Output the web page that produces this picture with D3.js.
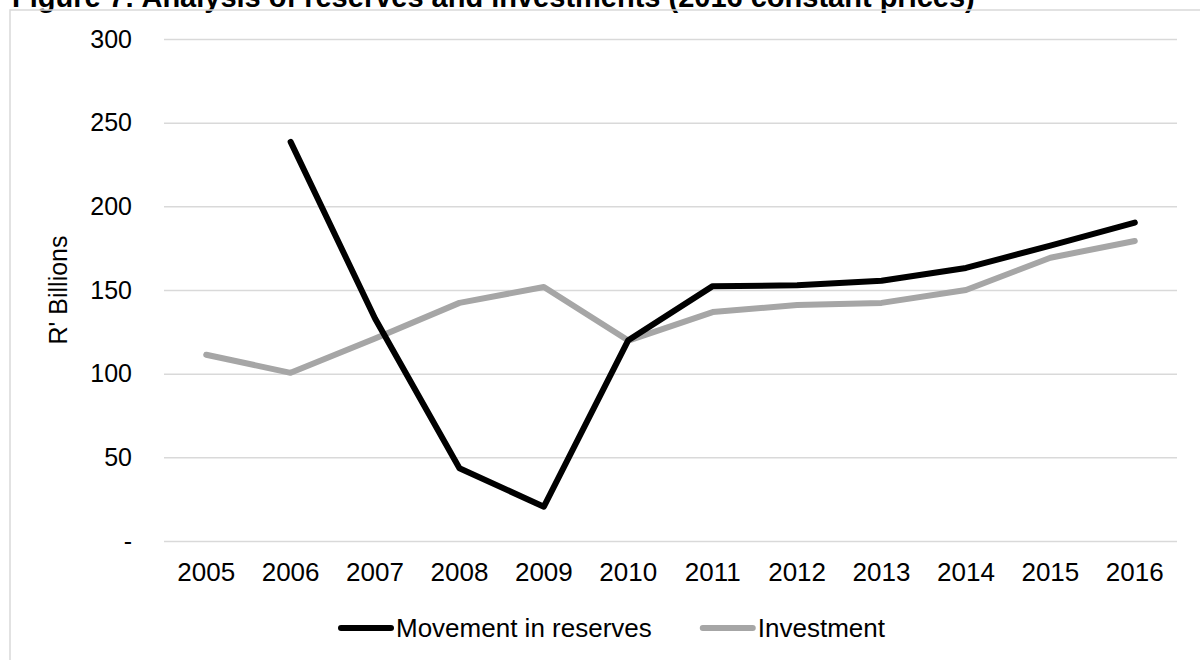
<!DOCTYPE html>
<html>
<head>
<meta charset="utf-8">
<script src="https://cdn.jsdelivr.net/npm/d3@7"></script>
<style>
  body { margin: 0; background: #fff; }
  svg { display: block; font-family: "Liberation Sans", Arial, sans-serif; }
  .grid line { stroke: #d9d9d9; stroke-width: 1.5; }
  .grid path { display: none; }
  .axis path, .axis line { display: none; }
  .axis text { fill: #000; }
  .yaxis text { font-size: 25px; }
  .xaxis text { font-size: 26px; }
</style>
</head>
<body>
<svg id="chart" width="1200" height="660"></svg>
<script>
const width = 1200;
const height = 660;

// data
const years = ["2005", "2006", "2007", "2008", "2009", "2010", "2011", "2012", "2013", "2014", "2015", "2016"];
const reserves = [null, 238.5, 133, 43.5, 20.5, 120, 152.3, 152.8, 155.5, 163.2, 176.5, 190.3];
const investment = [111.3, 100.5, 121, 142.3, 151.8, 119.8, 136.8, 141, 142.3, 150, 169.3, 179.3];
const yTicks = [0, 50, 100, 150, 200, 250, 300];
const seriesNames = ["Movement in reserves", "Investment"];

const svg = d3.select("#chart");

const plot = { left: 164, right: 1177, top: 39, bottom: 541 };

const x = d3.scaleBand()
  .domain(years)
  .range([plot.left, plot.right]);

const y = d3.scaleLinear()
  .domain([0, 300])
  .range([plot.bottom, plot.top]);

// title (clipped at the top of the picture)
svg.append("text")
  .attr("x", 12)
  .attr("y", 7)
  .style("font-size", "29px")
  .style("font-weight", "bold")
  .text("Figure 7: Analysis of reserves and investments (2016 constant prices)");

// chart frame
svg.append("rect")
  .attr("x", 10)
  .attr("y", 10)
  .attr("width", 1300)
  .attr("height", 800)
  .attr("fill", "none")
  .attr("stroke", "#d9d9d9")
  .attr("stroke-width", 1.5);

// gridlines
svg.append("g")
  .attr("class", "grid")
  .attr("transform", `translate(${plot.left},0)`)
  .call(d3.axisLeft(y).tickValues(yTicks).tickSize(-(plot.right - plot.left)).tickFormat(""));

// Y axis labels
svg.append("g")
  .attr("class", "axis yaxis")
  .attr("transform", `translate(${plot.left - 32},0)`)
  .call(d3.axisLeft(y).tickValues(yTicks).tickSize(0).tickPadding(0)
    .tickFormat(d => d === 0 ? "-" : d));

// X axis labels
svg.append("g")
  .attr("class", "axis xaxis")
  .attr("transform", `translate(0,${plot.bottom})`)
  .call(d3.axisBottom(x).tickSize(0).tickPadding(22));

// Y axis title
svg.append("text")
  .attr("transform", `translate(67,290) rotate(-90)`)
  .attr("text-anchor", "middle")
  .style("font-size", "25px")
  .text("R' Billions");

const line = d3.line()
  .defined(d => d.v != null)
  .x(d => x(d.year) + x.bandwidth() / 2)
  .y(d => y(d.v));

const series = [
  { name: seriesNames[0], values: reserves, color: "#000000" },
  { name: seriesNames[1], values: investment, color: "#a6a6a6" }
];

// draw investment first so reserves sit on top
series.slice().reverse().forEach(s => {
  svg.append("path")
    .datum(years.map((yr, i) => ({ year: yr, v: s.values[i] })))
    .attr("fill", "none")
    .attr("stroke", s.color)
    .attr("stroke-width", 6)
    .attr("stroke-linejoin", "round")
    .attr("stroke-linecap", "round")
    .attr("d", line);
});

// legend
const legend = svg.append("g").attr("transform", "translate(0,628)");
let lx = 341;
series.forEach(s => {
  legend.append("line")
    .attr("x1", lx).attr("x2", lx + 50)
    .attr("y1", 0).attr("y2", 0)
    .attr("stroke", s.color)
    .attr("stroke-width", 6)
    .attr("stroke-linecap", "round");
  const t = legend.append("text")
    .attr("x", lx + 55)
    .attr("y", 9)
    .style("font-size", "26px")
    .text(s.name);
  lx += 55 + t.node().getComputedTextLength() + 51;
});
</script>
</body>
</html>
